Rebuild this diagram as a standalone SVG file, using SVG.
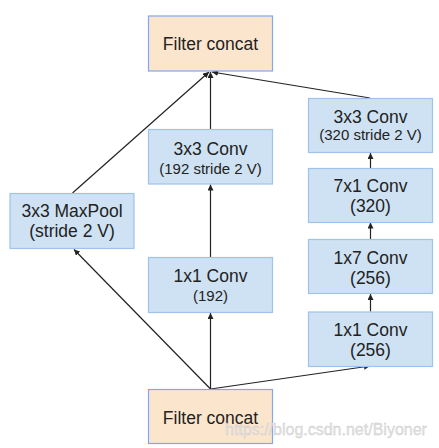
<svg xmlns="http://www.w3.org/2000/svg" width="439" height="448" viewBox="0 0 439 448">
<style>
.peach{fill:#fce5cd;stroke:#7fa8ef;stroke-width:1.2}
.blue{fill:#cfe2f3;stroke:#9ec3ec;stroke-width:1.2}
text{font-family:"Liberation Sans",Arial,sans-serif;fill:#222;text-anchor:middle}
.big{font-size:17.5px}
.sm{font-size:15px}
.edge{stroke:#222;stroke-width:1.2;fill:none;marker-end:url(#ah)}
.wm{font-size:16px;fill:#e2e2e2;text-anchor:start;stroke:#c8c8c8;stroke-width:0.3}
</style>
<defs>
<marker id="ah" viewBox="0 0 10 10" refX="10" refY="5" markerWidth="6" markerHeight="6" markerUnits="userSpaceOnUse" orient="auto">
<path d="M0,0 L10,5 L0,10 z" fill="#222"/>
</marker>
</defs>
<g id="edges">
<line class="edge" x1="210.5" y1="389" x2="210.5" y2="313"/>
<line class="edge" x1="210.5" y1="389" x2="74" y2="249.5"/>
<line class="edge" x1="210.5" y1="389" x2="370" y2="366"/>
<line class="edge" x1="370.5" y1="311.5" x2="370.5" y2="294"/>
<line class="edge" x1="370.5" y1="239" x2="370.5" y2="222.5"/>
<line class="edge" x1="370.5" y1="168" x2="370.5" y2="153"/>
<line class="edge" x1="370" y1="98" x2="212" y2="72"/>
<line class="edge" x1="210.5" y1="257" x2="210.5" y2="184.5"/>
<line class="edge" x1="210.5" y1="129" x2="210.5" y2="72"/>
<line class="edge" x1="72.5" y1="193" x2="209" y2="72"/>
</g>
<g id="concat_top">
<rect class="peach" x="148.5" y="16" width="124" height="55"/>
<text class="big" x="210.5" y="50">Filter concat</text>
</g>
<g id="maxpool">
<rect class="blue" x="10" y="193.5" width="124" height="55"/>
<text class="big" x="72" y="217">3x3 MaxPool</text>
<text class="big" x="72" y="237">(stride 2 V)</text>
</g>
<g id="conv3x3_mid">
<rect class="blue" x="148.5" y="129.5" width="124" height="54.5"/>
<text class="big" x="210.5" y="155">3x3 Conv</text>
<text class="sm" x="210.5" y="174">(192 stride 2 V)</text>
</g>
<g id="conv1x1_mid">
<rect class="blue" x="148.5" y="257.5" width="124" height="55"/>
<text class="big" x="210.5" y="282">1x1 Conv</text>
<text class="sm" x="210.5" y="300.5">(192)</text>
</g>
<g id="conv3x3_right">
<rect class="blue" x="308.5" y="98.5" width="124" height="54"/>
<text class="big" x="370.5" y="123">3x3 Conv</text>
<text class="sm" x="370.5" y="140">(320 stride 2 V)</text>
</g>
<g id="conv7x1">
<rect class="blue" x="308.5" y="168.5" width="124" height="54"/>
<text class="big" x="370.5" y="192">7x1 Conv</text>
<text class="big" x="370.5" y="212">(320)</text>
</g>
<g id="conv1x7">
<rect class="blue" x="308.5" y="239.5" width="124" height="54"/>
<text class="big" x="370.5" y="263.5">1x7 Conv</text>
<text class="big" x="370.5" y="283.5">(256)</text>
</g>
<g id="conv1x1_right">
<rect class="blue" x="308.5" y="312" width="124" height="54.5"/>
<text class="big" x="370.5" y="336">1x1 Conv</text>
<text class="big" x="370.5" y="356">(256)</text>
</g>
<g id="concat_bottom">
<rect class="peach" x="148.5" y="389.5" width="124" height="54"/>
<text class="big" x="210.5" y="423.5">Filter concat</text>
</g>
<text class="wm" x="225" y="435">https://blog.csdn.net/Biyoner</text>
</svg>
